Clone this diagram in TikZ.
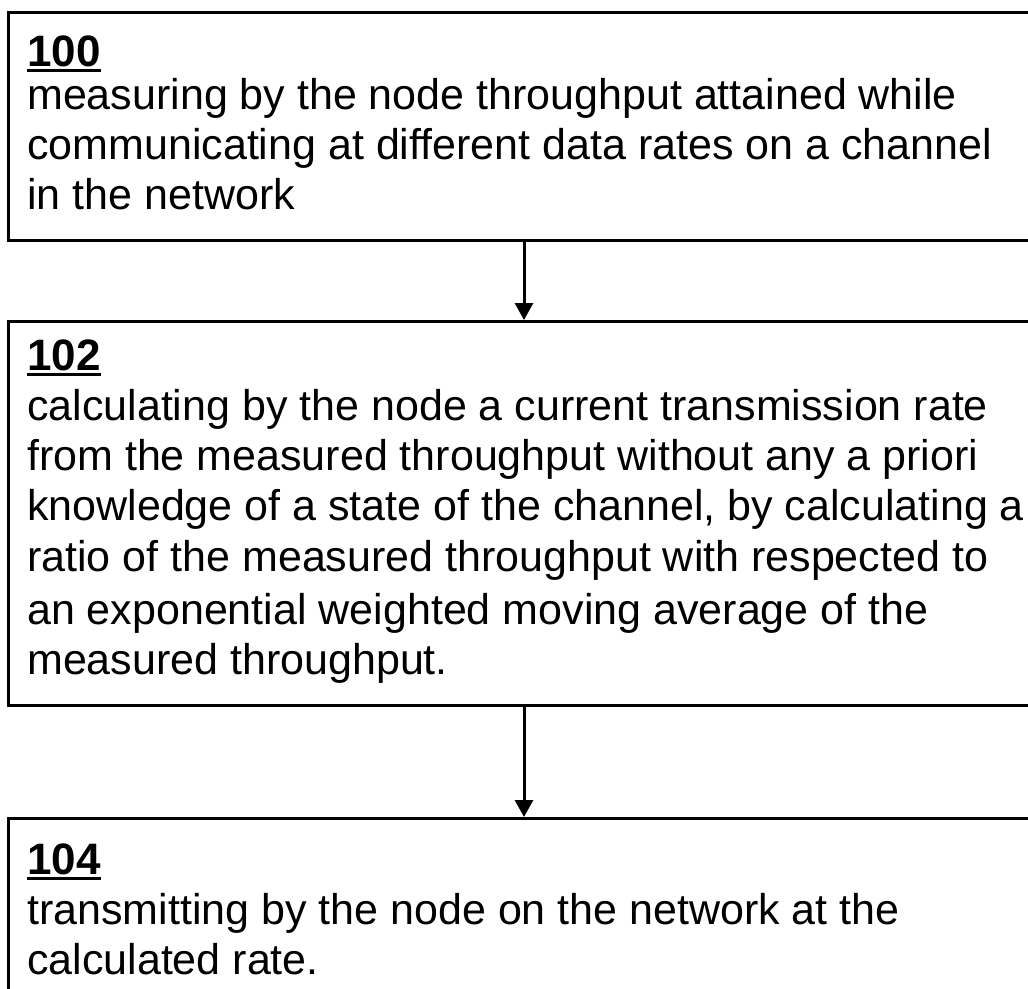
\documentclass[tikz,border=0pt]{standalone}
\usepackage{fontspec}
\setmainfont{Liberation Sans}
\usetikzlibrary{arrows.meta}
\newcommand\myul[1]{\setbox0\hbox{#1}\rlap{\rule[-6pt]{\wd0}{3pt}}\box0}
\begin{document}
\begin{tikzpicture}[x=1pt,y=1pt,
  stepbox/.style={draw=black,line width=3pt,rectangle,inner sep=0pt,anchor=north west,minimum width=1060pt},
  txt/.style={anchor=base west,inner sep=0pt,font=\fontsize{43}{50}\selectfont},
  lbl/.style={anchor=base west,inner sep=0pt,font=\fontsize{44}{50}\selectfont\bfseries},
  conn/.style={line width=3pt,-{Triangle[length=17pt,width=18pt]}}]
\clip (0,0) rectangle (1028,-988);
\fill[white] (0,0) rectangle (1028,-988);
\node[stepbox,minimum height=228pt] (b1) at (7,-11) {};
\node[stepbox,minimum height=384pt] (b2) at (7,-320) {};
\node[stepbox,minimum height=200pt] (b3) at (7,-817) {};
\coordinate (ax) at (524,0);
% box 1
\node[lbl] (t1a) at (27,-66) {\myul{100}};
\node[txt] (t1b) at (27,-109) {measuring by the node throughput attained while};
\node[txt] (t1c) at (27,-159) {communicating at different data rates on a channel};
\node[txt] (t1d) at (27,-209) {in the network};
% box 2
\node[lbl] (t2a) at (27,-370) {\myul{102}};
\node[txt] (t2b) at (27,-420) {calculating by the node a current transmission rate};
\node[txt] (t2c) at (27,-470) {from the measured throughput without any a priori};
\node[txt] (t2d) at (27,-520) {knowledge of a state of the channel, by calculating a};
\node[txt] (t2e) at (27,-571) {ratio of the measured throughput with respected to};
\node[txt] (t2f) at (27,-624) {an exponential weighted moving average of the};
\node[txt] (t2g) at (27,-674) {measured throughput.};
% box 3
\node[lbl] (t3a) at (27,-874) {\myul{104}};
\node[txt] (t3b) at (27,-924) {transmitting by the node on the network at the};
\node[txt] (t3c) at (27,-974) {calculated rate.};
% connectors
\draw[conn] (b1.south -| ax) -- (b2.north -| ax);
\draw[conn] (b2.south -| ax) -- (b3.north -| ax);
\end{tikzpicture}
\end{document}
